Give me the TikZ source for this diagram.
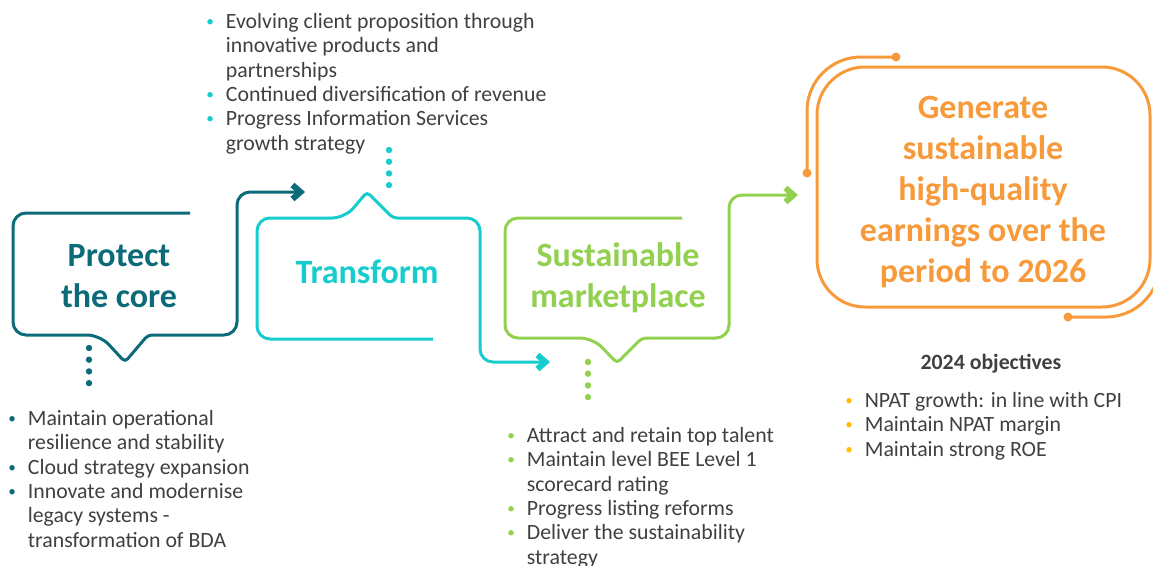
\documentclass[tikz,border=0pt]{standalone}
\usepackage{fontspec}
\setmainfont{Carlito}
\usetikzlibrary{arrows.meta}
\definecolor{coreteal}{HTML}{0C6B78}
\definecolor{transcyan}{HTML}{16CCCC}
\definecolor{marketgreen}{HTML}{92D050}
\definecolor{goalorange}{HTML}{F79A3B}
\definecolor{bulletgold}{HTML}{FFC000}
\definecolor{bodygrey}{HTML}{404040}
\newcommand{\bul}[1]{\makebox[21pt][l]{\hspace{1.5pt}\raisebox{2pt}{\scalebox{0.7}{\textcolor{#1}{\textbullet}}}}}
\newcommand{\cont}{\hspace*{21pt}}
\newcommand{\dotcol}[3]{\foreach \k in {0,...,3} \fill[#3] (#1,#2+11.7*\k) circle (3.2);}
\tikzset{
  outline/.style={line width=3pt, rounded corners=13pt},
  flow/.style={-{Straight Barb[length=8pt,width=14pt,line width=6pt]}},
  title/.style={font=\fontsize{34}{41}\selectfont\bfseries, align=center},
  bullets/.style={font=\fontsize{21.8}{24.4}\selectfont, text=bodygrey, align=left, inner sep=0pt, anchor=north west},
}

\begin{document}
\begin{tikzpicture}[x=1pt,y=-1pt]
    \clip (0,0) rectangle (1153,565);
    % callouts
    \draw[outline,flow,coreteal] (190,213) -- (13,213) -- (13,335) -- (100,335) [rounded corners=4] -- (125,362) -- (148,335) [rounded corners=13] -- (237,335) -- (237,192) -- (305,192);
    \draw[outline,flow,transcyan] (433,339) -- (257,339) -- (257,218) -- (345,218) [rounded corners=4] -- (367,192) -- (393,218) [rounded corners=13] -- (480,218) -- (480,362) -- (550,362);
    \draw[outline,flow,marketgreen] (682,218) -- (505,218) -- (505,338) -- (593,338) [rounded corners=4] -- (617,363) -- (642,338) [rounded corners=13] -- (729,338) -- (729,195) -- (798,195);
    \draw[goalorange,line width=3pt,rounded corners=48] (817,67) rectangle (1150,307);
    \coordinate (gtop) at (896,57); \coordinate (gleft) at (807,173);
    \coordinate (gbot) at (1068,317); \coordinate (gright) at (1160,200);
    \draw[goalorange,line width=3pt,rounded corners=54] (gtop) -- (807,57) -- (gleft);
    \draw[goalorange,line width=3pt,rounded corners=54] (gbot) -- (1160,317) -- (gright);
    \fill[goalorange] (gtop) circle (4.5) (gleft) circle (4.5) (gbot) circle (4.5);
    \dotcol{89}{348}{coreteal}
    \dotcol{389}{150}{transcyan}
    \dotcol{588}{362}{marketgreen}
    % titles
    \node[title,text=coreteal] (core) at (119,276) {Protect\\the core};
    \node[title,text=transcyan] (trans) at (367,272) {Transform};
    \node[title,text=marketgreen] (market) at (618,278) {Sustainable\\marketplace};
    \node[title,text=goalorange] (goal) at (983,192) {Generate\\sustainable\\high-quality\\earnings over the\\period to 2026};
    % lists
    \node[bullets] (listcore) at (6.7,410) {\bul{coreteal}Maintain operational\\\cont resilience and stability\\\bul{coreteal}Cloud strategy expansion\\\bul{coreteal}Innovate and modernise\\\cont legacy systems -\\\cont transformation of BDA};
    \node[bullets] (listtrans) at (204.7,13) {\bul{transcyan}Evolving client proposition through\\\cont innovative products and\\\cont partnerships\\\bul{transcyan}Continued diversification of revenue\\\bul{transcyan}Progress Information Services\\\cont growth strategy};
    \node[bullets] (listmarket) at (505.7,427) {\bul{marketgreen}Attract and retain top talent\\\bul{marketgreen}Maintain level BEE Level 1\\\cont scorecard rating\\\bul{marketgreen}Progress listing reforms\\\bul{marketgreen}Deliver the sustainability\\\cont strategy};
    \node[font=\fontsize{21.8}{24.4}\selectfont\bfseries,text=bodygrey] (objhead) at (991,364) {2024 objectives};
    \node[bullets] (listgoal) at (843.7,392) {\bul{bulletgold}NPAT growth: in line with CPI\\\bul{bulletgold}Maintain NPAT margin\\\bul{bulletgold}Maintain strong ROE};
\end{tikzpicture}
\end{document}
